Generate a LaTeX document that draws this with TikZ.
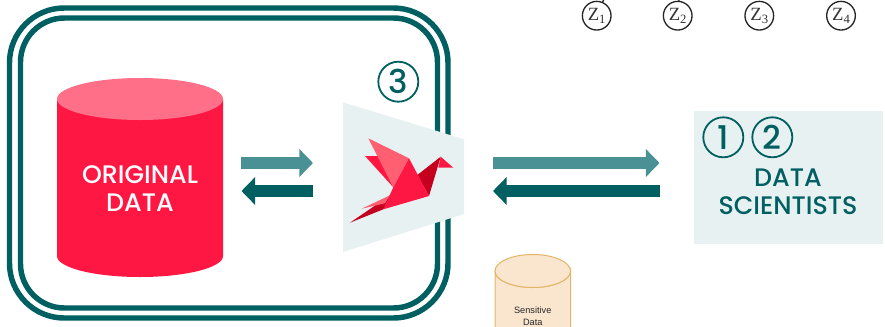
\documentclass[tikz,border=0pt]{standalone}
\usepackage{fontspec}
\setmainfont{Poppins Medium}
\newfontfamily\helv{Liberation Sans}
\newfontfamily\tms{Liberation Serif}
\usetikzlibrary{arrows.meta}
\definecolor{tealdark}{HTML}{005F60}
\definecolor{teallight}{HTML}{4A9195}
\definecolor{panelbg}{HTML}{E8F1F2}
\definecolor{cylred}{HTML}{FF1744}
\definecolor{cyltop}{HTML}{FF7088}
\definecolor{birdpink}{HTML}{FF5F70}
\definecolor{birddark}{HTML}{C4001E}
\definecolor{sensfill}{HTML}{FAE5CE}
\definecolor{sensline}{HTML}{E3B566}
\tikzset{
  x=0.75pt,y=-0.75pt,
  frame/.style={draw=tealdark,line width=4.1pt},
  numcircle/.style={circle,draw=tealdark,line width=1.35pt,minimum size=30pt,inner sep=0pt,text=tealdark,font=\fontsize{24.5}{24.5}\selectfont},
  zcircle/.style={circle,draw=black!85,line width=1pt,minimum size=21.5pt,inner sep=0pt,text=black!80,font=\tms\fontsize{14}{14}\selectfont},
  stub/.style={draw=black!85,line width=1pt},
  bigarrow/.style={line width=9.2pt,-{Triangle[length=10.3pt,width=20.5pt]}},
  tealtext/.style={text=tealdark,align=center,font=\fontsize{19}{21}\selectfont},
}
\newcommand{\zsub}[1]{Z\raisebox{-2pt}{\fontsize{9.5}{9.5}\selectfont #1}}
\begin{document}
\begin{tikzpicture}
\clip (0,0) rectangle (885,326);
\fill[white] (0,0) rectangle (885,326);
% frames
\draw[frame,rounded corners=41pt] (9.5,8) rectangle (448,318);
\draw[frame,rounded corners=33pt] (20.5,18) rectangle (437.5,308);
% red cylinder
\fill[cylred] (57,99) -- (57,256) arc[start angle=180,end angle=0,x radius=83,y radius=21] -- (223,99) -- cycle;
\fill[cyltop] (140,99) ellipse[x radius=83,y radius=21];
\node[text=white,align=center,font=\fontsize{19}{21}\selectfont] (orig) at (140,189) {ORIGINAL\\DATA};
% gate
\fill[panelbg] (343,102.3) -- (464,139.3) -- (464,214) -- (343,252) -- cycle;
\coordinate (gate) at (403,177);
% bird
\fill[cylred] (365,156) -- (378.3,156) -- (393.3,187.3) -- cycle;
\fill[birdpink] (368.3,138.3) -- (409,158.3) -- (393.3,187.3) -- cycle;
\fill[birddark] (417.3,175) -- (440.7,156.7) -- (429,196) -- cycle;
\fill[cylred] (409,158.3) -- (429,196) -- (383.3,209.3) -- (393.3,187.3) -- cycle;
\fill[cylred] (440.7,156.7) -- (453.3,167.7) -- (438.3,167.7) -- cycle;
\fill[birddark] (350,222.7) -- (390,195.3) -- (383.3,209.3) -- cycle;
\fill[birdpink] (361.7,208.7) -- (390,195.3) -- (385,203.3) -- cycle;
% numbers
\node[numcircle] (n3) at (398.3,81.7) {3};
% panel
\fill[panelbg] (694,111) rectangle (883,244);
\node[numcircle] (n1) at (723.3,137.3) {1};
\node[numcircle] (n2) at (772.3,137.3) {2};
\node[tealtext] (ds) at (788,191.5) {DATA\\SCIENTISTS};
% arrows
\coordinate (a1s) at (241,163); \coordinate (a1e) at (313,163);
\coordinate (a2s) at (313,191); \coordinate (a2e) at (241.5,191);
\coordinate (a3s) at (493,163); \coordinate (a3e) at (659.5,163);
\coordinate (a4s) at (659.5,191); \coordinate (a4e) at (493,191);
\draw[bigarrow,teallight] (a1s) -- (a1e);
\draw[bigarrow,tealdark] (a2s) -- (a2e);
\draw[bigarrow,teallight] (a3s) -- (a3e);
\draw[bigarrow,tealdark] (a4s) -- (a4e);
% sensitive data
\draw[sensline,fill=sensfill,line width=0.75pt] (495,271) -- (495,340) -- (570.5,340) -- (570.5,271) arc[start angle=0,end angle=180,x radius=37.75,y radius=16.5];
\draw[sensline,fill=sensfill,line width=0.75pt] (532.75,271) ellipse[x radius=37.75,y radius=16.5];
\node[align=center,text=black!85,font=\helv\fontsize{6.9}{9}\selectfont] (sens) at (532.75,316) {Sensitive\\Data};
% z nodes
\node[zcircle] (z1) at (596.7,15.7) {\zsub{1}};
\node[zcircle] (z2) at (677.7,15.7) {\zsub{2}};
\node[zcircle] (z3) at (759.3,15.7) {\zsub{3}};
\node[zcircle] (z4) at (841,15.7) {\zsub{4}};
\coordinate (t1) at (604,-1); \coordinate (t2) at (679,-1);
\draw[stub] (z1) -- (t1) (z2) -- (t2);
\end{tikzpicture}
\end{document}
